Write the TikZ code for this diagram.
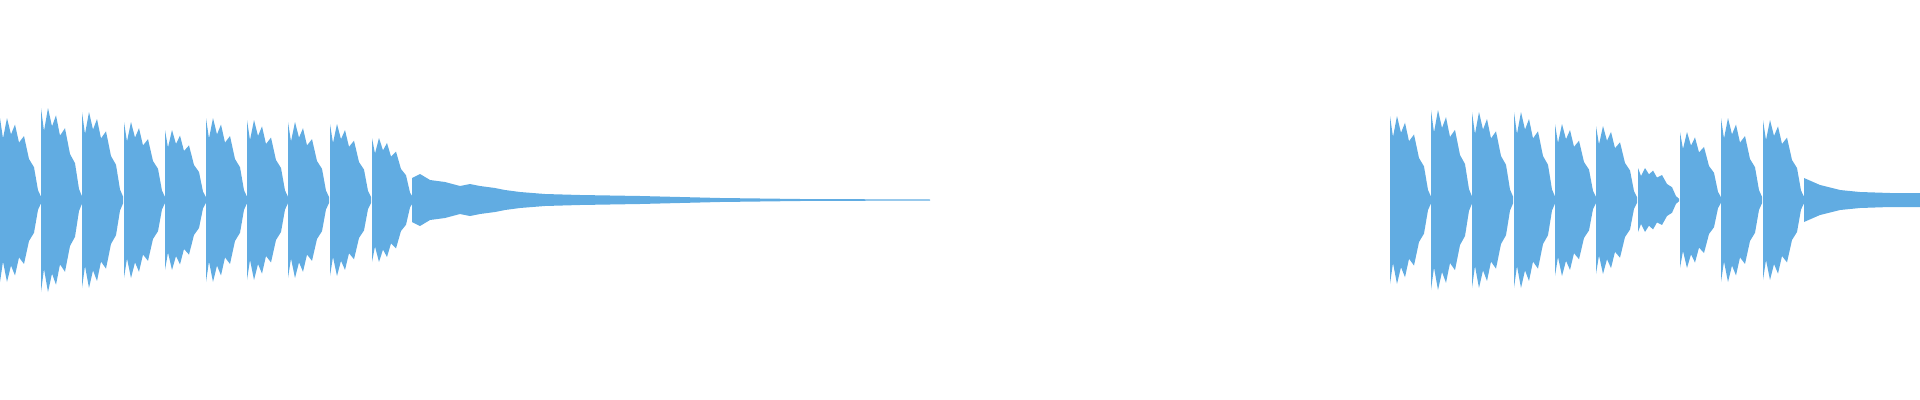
\documentclass[tikz,border=0pt]{standalone}
\usepackage{tikz}
\definecolor{wavecol}{RGB}{97,172,226}
\tikzset{wave/.style={fill=wavecol, draw=none}}
\begin{document}
\begin{tikzpicture}[x=0.01cm,y=-0.01cm]
    \useasboundingbox (0,0) rectangle (1920,400);
    % bursts
    \foreach \x/\a in {0/82,41/92,82/88,124/78,165/70,206/82,247/80,288/78,330/76,372/62,
                       1390/84,1431/90,1472/88,1514/88,1555/76,1596/74,1638/32,1680/68,1721/82,1763/80} {
        \fill[wave] (\x,200) -- (\x,200-\a) -- (\x+3,200-0.75*\a) -- (\x+7,200-\a) -- (\x+11,200-0.8*\a)
            -- (\x+15,200-0.92*\a) -- (\x+19,200-0.7*\a) -- (\x+24,200-0.78*\a) -- (\x+29,200-0.5*\a)
            -- (\x+34,200-0.4*\a) -- (\x+38,200-0.12*\a) -- (\x+41,200-0.04*\a)
            -- (\x+41,200+0.04*\a) -- (\x+38,200+0.12*\a) -- (\x+34,200+0.4*\a) -- (\x+29,200+0.5*\a)
            -- (\x+24,200+0.78*\a) -- (\x+19,200+0.7*\a) -- (\x+15,200+0.92*\a) -- (\x+11,200+0.8*\a)
            -- (\x+7,200+\a) -- (\x+3,200+0.75*\a) -- (\x,200+\a) -- cycle;
    }
    % tails
    \fill[wave] (412,200) -- (412,178) -- (420,174) -- (430,180) -- (445,182) -- (460,186) -- (470,184)
        -- (480,186) -- (495,188) -- (505,190) -- (520,192) -- (545,194)
        -- (580,195) -- (640,196) -- (720,198) -- (800,199) -- (930,199.5) -- (930,200.5) -- (800,201)
        -- (720,202) -- (640,204) -- (580,205) -- (545,206) -- (520,208) -- (505,210) -- (495,212)
        -- (480,214) -- (470,216) -- (460,214) -- (445,218) -- (430,220) -- (420,226) -- (412,222) -- cycle;
    \fill[wave] (1804,200) -- (1804,178) -- (1820,185) -- (1840,190) -- (1860,192) -- (1890,193)
        -- (1920,193) -- (1920,207) -- (1890,207) -- (1860,208) -- (1840,210) -- (1820,215)
        -- (1804,222) -- cycle;
\end{tikzpicture}
\end{document}
